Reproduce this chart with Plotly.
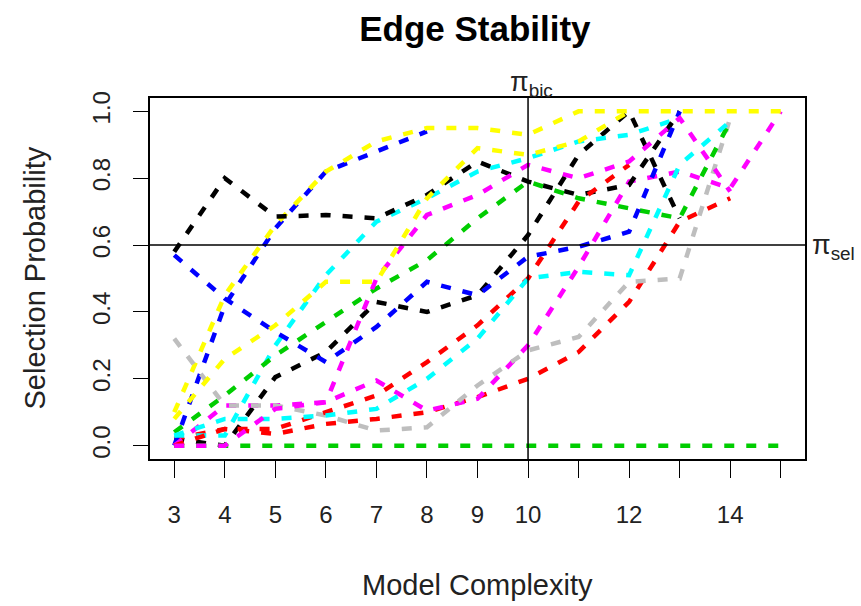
import plotly.graph_objects as go

# x positions (model index) and their tick labels
x_index = list(range(1, 14))
tick_labels = ["3", "4", "5", "6", "7", "8", "9", "10", "", "12", "", "14", ""]
y_ticks = [0.0, 0.2, 0.4, 0.6, 0.8, 1.0]
y_tick_labels = ["0.0", "0.2", "0.4", "0.6", "0.8", "1.0"]

pi_bic_x = 8
pi_sel_y = 0.6

# selection probabilities of each edge (one list per edge; None = not drawn)
edge_01 = [0.02, 0.00, 0.205, 0.28, 0.43, 0.40, 0.45, 0.63, 0.87, 1.00, 0.68, None, None]
edge_02 = [0.02, 0.05, 0.035, 0.065, 0.08, 0.10, 0.145, 0.20, 0.28, 0.43, 0.67, 0.74, None]
edge_03 = [0.00, 0.00, 0.00, 0.00, 0.00, 0.00, 0.00, 0.00, 0.00, 0.00, 0.00, 0.00, 0.00]
edge_04 = [0.00, 0.42, 0.65, 0.82, 0.88, 0.94, None, None, None, None, None, None, None]
edge_05 = [0.03, 0.03, 0.30, 0.51, 0.67, 0.74, 0.82, 0.86, 0.91, 0.93, 0.98, None, None]
edge_06 = [0.00, 0.12, 0.12, 0.13, 0.195, 0.105, 0.14, 0.30, 0.535, 0.79, 0.82, 0.77, 1.00]
edge_07 = [0.10, 0.45, 0.66, 0.82, 0.91, 0.95, 0.95, 0.93, 1.00, 1.00, 1.00, 1.00, 1.00]
edge_08 = [0.32, 0.12, 0.12, 0.09, 0.045, 0.055, 0.18, 0.285, 0.325, 0.49, 0.50, 0.98, None]
edge_09 = [0.58, 0.80, 0.685, 0.69, 0.68, 0.75, 0.85, 0.79, 0.75, 0.78, 1.00, None, None]
edge_10 = [0.00, 0.05, 0.05, 0.10, 0.15, 0.25, 0.36, 0.50, 0.73, 0.84, None, None, None]
edge_11 = [0.04, 0.15, 0.27, 0.37, 0.47, 0.555, 0.68, 0.79, 0.74, 0.71, 0.68, 0.97, None]
edge_12 = [0.57, 0.44, 0.34, 0.25, 0.355, 0.49, 0.45, 0.565, 0.595, 0.64, 1.00, None, None]
edge_13 = [0.03, 0.08, 0.08, 0.09, 0.11, 0.20, 0.32, 0.50, 0.52, 0.51, 0.84, 0.97, None]
edge_14 = [0.00, 0.00, 0.11, 0.13, 0.50, 0.69, 0.75, 0.84, 0.80, 0.85, 0.98, 0.76, None]
edge_15 = [0.08, 0.26, 0.36, 0.49, 0.49, 0.74, 0.89, 0.87, 0.91, 1.00, None, None, None]

edges = [edge_01, edge_02, edge_03, edge_04, edge_05, edge_06, edge_07, edge_08,
         edge_09, edge_10, edge_11, edge_12, edge_13, edge_14, edge_15]

palette = ["#000000", "#FF0000", "#00CD00", "#0000FF",
           "#00FFFF", "#FF00FF", "#FFFF00", "#BEBEBE"]

FONT = "Liberation Sans, Arial, sans-serif"
TXT = "#222222"

fig = go.Figure()
for i, vals in enumerate(edges):
    fig.add_trace(go.Scatter(
        x=x_index, y=vals, mode="lines", connectgaps=False,
        line=dict(color=palette[i % len(palette)], width=4.5, dash="10px,12px"),
        showlegend=False, hoverinfo="skip"))

fig.add_shape(type="line", xref="x", yref="paper", x0=pi_bic_x, x1=pi_bic_x,
              y0=0, y1=1, line=dict(color="black", width=1.5))
fig.add_shape(type="line", xref="paper", yref="y", x0=0, x1=1,
              y0=pi_sel_y, y1=pi_sel_y, line=dict(color="black", width=1.5))

fig.update_layout(
    width=861, height=606,
    margin=dict(l=150, r=56, t=98, b=147),
    paper_bgcolor="white", plot_bgcolor="white",
    font=dict(family=FONT, color="black"),
    title=dict(text="<b>Edge Stability</b>", x=0.496, xref="paper",
               y=1 - 29 / 606, yanchor="middle",
               font=dict(size=35, family=FONT, color="black")),
    xaxis=dict(range=[0.52, 13.48], tickmode="array", tickvals=x_index,
               ticktext=tick_labels, ticks="outside", ticklen=17,
               tickcolor="black", tickwidth=1.2, showgrid=False, zeroline=False,
               showline=True, mirror=True, linecolor="black", linewidth=1.5,
               tickfont=dict(size=24, color=TXT), ticklabelstandoff=16),
    yaxis=dict(range=[-0.04, 1.04], tickmode="array", tickvals=y_ticks,
               ticktext=y_tick_labels, ticks="outside", ticklen=15,
               tickcolor="black", tickwidth=1.2, showgrid=False, zeroline=False,
               showline=True, mirror=True, linecolor="black", linewidth=1.5,
               tickangle=-90, tickfont=dict(size=24, color=TXT),
               ticklabelstandoff=14),
)

fig.add_annotation(text="Model Complexity", xref="paper", yref="paper",
                   x=0.5, y=0, yanchor="middle", yshift=-126, showarrow=False,
                   font=dict(size=29, family=FONT, color=TXT))
fig.add_annotation(text="Selection Probability", xref="paper", yref="paper",
                   x=0, y=0.5, xanchor="center", xshift=-116, textangle=-90,
                   showarrow=False, font=dict(size=29, family=FONT, color=TXT))
fig.add_annotation(text="π<sub>bic</sub>", xref="x", yref="paper",
                   x=pi_bic_x, y=1, xanchor="center", yanchor="bottom",
                   xshift=3, yshift=-5, showarrow=False,
                   font=dict(size=27, family=FONT, color=TXT))
fig.add_annotation(text="π<sub>sel</sub>", xref="paper", yref="y",
                   x=1, y=pi_sel_y, xanchor="left", yanchor="middle",
                   xshift=5, yshift=-2, showarrow=False,
                   font=dict(size=27, family=FONT, color=TXT))

fig.write_html("out.html")
